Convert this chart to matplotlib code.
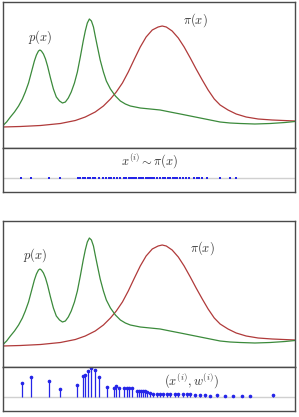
import numpy as np
import matplotlib
matplotlib.use("Agg")
import matplotlib.pyplot as plt

plt.rcParams['mathtext.fontset'] = 'cm'

# target density p(x) (green)
p_x = [0.00, 0.14, 0.27, 0.41, 0.55, 0.68, 0.78, 0.89, 0.99, 1.09, 1.16, 1.23, 1.28,
       1.33, 1.40, 1.47, 1.54, 1.64, 1.74, 1.84, 1.95, 2.05, 2.15, 2.25, 2.35, 2.46,
       2.56, 2.66, 2.76, 2.83, 2.90, 2.97, 3.04, 3.11, 3.17, 3.24, 3.34, 3.45, 3.55,
       3.69, 3.86, 4.03, 4.20, 4.37, 4.71, 5.05, 5.39, 5.73, 6.08, 6.42, 6.76, 7.10,
       7.44, 7.78, 8.12, 8.63, 9.15, 9.66, 10.0]
p_y = [0.01, 0.05, 0.10, 0.15, 0.21, 0.28, 0.35, 0.44, 0.55, 0.66, 0.72, 0.76, 0.77,
       0.76, 0.73, 0.68, 0.61, 0.49, 0.38, 0.30, 0.26, 0.24, 0.25, 0.29, 0.35, 0.44,
       0.55, 0.70, 0.86, 0.96, 1.04, 1.08, 1.06, 1.00, 0.91, 0.81, 0.67, 0.55, 0.46,
       0.38, 0.31, 0.26, 0.23, 0.21, 0.19, 0.18, 0.17, 0.15, 0.13, 0.11, 0.09, 0.07,
       0.05, 0.04, 0.035, 0.03, 0.035, 0.045, 0.055]

# proposal density pi(x) (red)
q_x = [0.00, 0.61, 1.30, 1.98, 2.49, 2.83, 3.17, 3.45, 3.69, 3.89, 4.10, 4.30, 4.51,
       4.71, 4.91, 5.12, 5.32, 5.46, 5.60, 5.80, 6.01, 6.21, 6.42, 6.62, 6.83, 7.03,
       7.24, 7.44, 7.71, 7.99, 8.33, 8.74, 9.22, 10.0]
q_y = [0.00, 0.005, 0.015, 0.035, 0.065, 0.10, 0.15, 0.21, 0.28, 0.35, 0.44, 0.55, 0.68,
       0.80, 0.90, 0.97, 1.00, 1.01, 1.00, 0.96, 0.89, 0.80, 0.69, 0.58, 0.47, 0.37,
       0.28, 0.22, 0.17, 0.13, 0.10, 0.08, 0.07, 0.06]

# samples x^(i) ~ pi(x)
samples = [0.64, 0.98, 1.58, 1.98, 2.58, 2.66, 2.74, 2.83, 2.91, 3.00, 3.10, 3.17, 3.29,
           3.44, 3.55, 3.63, 3.72, 3.80, 3.91, 4.00, 4.16, 4.23, 4.31, 4.37, 4.44, 4.51,
           4.57, 4.65, 4.71, 4.77, 4.82, 4.90, 4.97, 5.05, 5.11, 5.19, 5.28, 5.37, 5.48,
           5.56, 5.66, 5.73, 5.83, 5.90, 5.98, 6.08, 6.17, 6.28, 6.39, 6.53, 6.65, 6.73,
           6.82, 6.99, 7.42, 7.78, 7.99]

# weighted samples (x^(i), w^(i))
w_x = [0.65, 0.99, 1.60, 1.98, 2.56, 2.76, 2.83, 2.94, 3.04, 3.17, 3.31, 3.58, 3.82,
       3.89, 3.99, 4.16, 4.27, 4.33, 4.44, 4.61, 4.68, 4.74, 4.81, 4.88, 4.95, 5.05,
       5.15, 5.29, 5.39, 5.49, 5.63, 5.73, 5.90, 6.01, 6.18, 6.31, 6.42, 6.59, 6.76,
       6.93, 7.10, 7.34, 7.61, 7.88, 8.19, 8.46, 9.25]
w_y = [1.4, 2.0, 1.6, 0.8, 1.2, 2.1, 2.2, 2.6, 2.9, 2.7, 2.0, 1.0, 0.9,
       1.1, 0.9, 0.9, 0.9, 0.9, 0.9, 0.6, 0.6, 0.6, 0.6, 0.6, 0.5, 0.4,
       0.35, 0.3, 0.3, 0.3, 0.3, 0.3, 0.35, 0.35, 0.3, 0.3, 0.3, 0.25, 0.25,
       0.2, 0.15, 0.2, 0.15, 0.15, 0.15, 0.1, 0.2]

W, H = 299, 417
GREEN = '#3b8a3b'
RED = '#b03a3a'
BLUE = '#2525e8'
FRAME = '#4a4a4a'
TXT = '#333333'

fig = plt.figure(figsize=(W / 100, H / 100), dpi=100)


def px_axes(left, top, right, bottom):
    ax = fig.add_axes([left / W, 1 - bottom / H, (right - left) / W, (bottom - top) / H])
    ax.set_xticks([])
    ax.set_yticks([])
    for s in ax.spines.values():
        s.set_color(FRAME)
        s.set_linewidth(1.0)
    ax.set_xlim(0, 10)
    return ax


def curves_panel(top):
    ax = px_axes(2.5, top, 295, top + 146)
    ax.plot(q_x, q_y, color=RED, lw=0.9)
    ax.plot(p_x, p_y, color=GREEN, lw=0.9)
    ax.set_ylim(-0.21, 1.25)
    return ax


def strip_panel(top):
    ax = px_axes(2.5, top, 295, top + 44)
    ax.axhline(0, color='#d0d0d0', lw=1.0, zorder=0)
    ax.set_ylim(-1.4, 3.0)
    return ax


# top figure
ax1 = curves_panel(2)
s1 = strip_panel(148)
s1.plot(samples, np.zeros(len(samples)), 's', color=BLUE, ms=1.6, mew=0)
fig.text(40 / W, 1 - 37 / H, r'$p(x)$', ha='center', va='center', fontsize=9, color=TXT)
fig.text(195 / W, 1 - 20 / H, r'$\pi(x)$', ha='center', va='center', fontsize=9, color=TXT)
fig.text(150 / W, 1 - 161 / H, r'$x^{(i)} \sim \pi(x)$', ha='center', va='center',
         fontsize=9, color=TXT)

# bottom figure
ax2 = curves_panel(221)
s2 = strip_panel(367)
markers, stems, base = s2.stem(w_x, w_y, basefmt=' ')
plt.setp(stems, color=BLUE, lw=0.9)
plt.setp(markers, color=BLUE, ms=1.6)
fig.text(35 / W, 1 - 255 / H, r'$p(x)$', ha='center', va='center', fontsize=9, color=TXT)
fig.text(202 / W, 1 - 248 / H, r'$\pi(x)$', ha='center', va='center', fontsize=9, color=TXT)
fig.text(192 / W, 1 - 381 / H, r'$(x^{(i)}, w^{(i)})$', ha='center', va='center',
         fontsize=9, color=TXT)

fig.savefig('out.png', dpi=100)
